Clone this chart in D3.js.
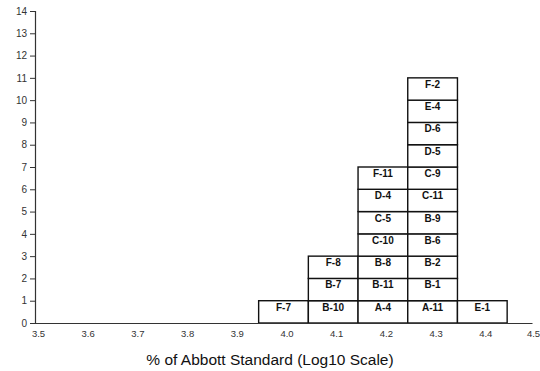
<!DOCTYPE html>
<html>
<head>
<meta charset="utf-8">
<script src="https://cdn.jsdelivr.net/npm/d3@7"></script>
<style>
  html, body { margin: 0; padding: 0; background: #fff; }
  svg { display: block; font-family: "Liberation Sans", Arial, sans-serif; }
</style>
</head>
<body>
<svg id="chart" width="540" height="371"></svg>
<script>
// Bin centres (log10 of % of standard) and the sample IDs stacked in each bin, bottom to top
const binCenters = [4.0, 4.1, 4.2, 4.3, 4.4];
const binSamples = [
  ["F-7"],
  ["B-10", "B-7", "F-8"],
  ["A-4", "B-11", "B-8", "C-10", "C-5", "D-4", "F-11"],
  ["A-11", "B-1", "B-2", "B-6", "B-9", "C-11", "C-9", "D-5", "D-6", "E-4", "F-2"],
  ["E-1"]
];
const xTicks = [3.5, 3.6, 3.7, 3.8, 3.9, 4.0, 4.1, 4.2, 4.3, 4.4, 4.5];
const yTicks = [0, 1, 2, 3, 4, 5, 6, 7, 8, 9, 10, 11, 12, 13, 14];
const binWidth = 0.1;
const xTitle = "% of Abbott Standard (Log10 Scale)";

const svg = d3.select("#chart");
const x = d3.scaleLinear().domain([3.5, 4.5]).range([35, 532]);
const y = d3.scaleLinear().domain([0, 14]).range([323, 11]);

// One cell per sample
const cells = [];
binCenters.forEach((c, i) => {
  binSamples[i].forEach((id, k) => cells.push({ center: c, level: k, id }));
});

const cellG = svg.append("g");
cellG.selectAll("rect").data(cells).join("rect")
  .attr("x", d => x(d.center - binWidth / 2))
  .attr("y", d => y(d.level + 1))
  .attr("width", d => x(d.center + binWidth / 2) - x(d.center - binWidth / 2))
  .attr("height", d => y(d.level) - y(d.level + 1))
  .attr("fill", "#fff")
  .attr("stroke", "#111")
  .attr("stroke-width", 1.4);

cellG.selectAll("text").data(cells).join("text")
  .attr("x", d => x(d.center))
  .attr("y", d => y(d.level + 1) + 10)
  .attr("text-anchor", "middle")
  .attr("font-size", 10)
  .attr("font-weight", "bold")
  .attr("fill", "#111")
  .text(d => d.id);

// Y axis
const yAxis = svg.append("g")
  .attr("transform", `translate(${x(3.5)},0)`)
  .call(d3.axisLeft(y).tickValues(yTicks).tickFormat(d3.format("d")).tickSize(5).tickPadding(3));
yAxis.select(".domain").attr("stroke", "#333").attr("stroke-width", 1.2);
yAxis.selectAll(".tick line").attr("stroke", "#333");
yAxis.selectAll("text").attr("font-size", 10).attr("fill", "#333")
  .attr("font-family", "Liberation Sans, Arial, sans-serif");

// X axis (labels only, no tick marks)
const xAxis = svg.append("g")
  .attr("transform", `translate(0,${y(0)})`)
  .call(d3.axisBottom(x).tickValues(xTicks).tickFormat(d3.format(".1f")).tickSize(0).tickPadding(7).tickSizeOuter(0));
xAxis.select(".domain").attr("stroke", "#333").attr("stroke-width", 1.2);
xAxis.selectAll("text").attr("font-size", 9.5).attr("fill", "#333")
  .attr("dx", d => d === 4.5 ? 1 : 3)
  .attr("font-family", "Liberation Sans, Arial, sans-serif");

// Axis title
svg.append("text")
  .attr("x", 270)
  .attr("y", 365)
  .attr("text-anchor", "middle")
  .attr("font-size", 15.5)
  .attr("fill", "#111")
  .text(xTitle);
</script>
</body>
</html>
